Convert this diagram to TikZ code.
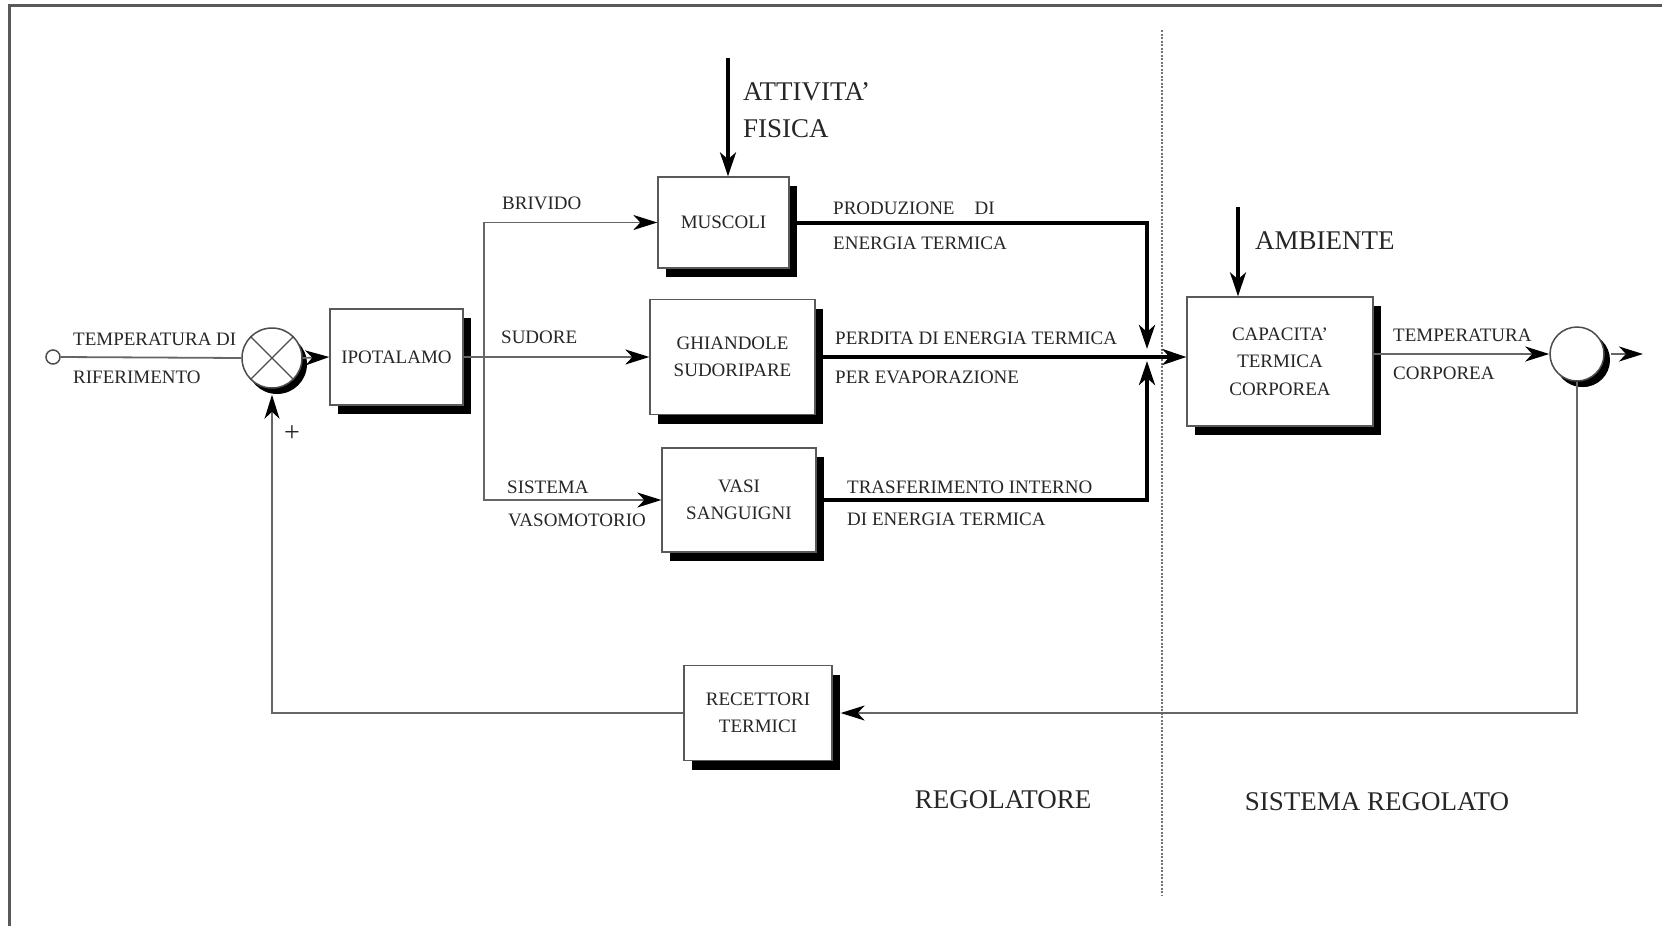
\documentclass[tikz,border=0pt]{standalone}
\usepackage{fontspec}
\setmainfont{Liberation Serif}
\usetikzlibrary{arrows.meta,shadows,calc}
\begin{document}
\begin{tikzpicture}[x=1pt,y=-1pt,
  lbl/.style={font=\fontsize{19}{27.5}\selectfont, text=black!85, inner sep=0pt, anchor=west},
  big/.style={font=\fontsize{27}{37}\selectfont, text=black!85, inner sep=0pt},
  blk/.style={draw=black!65, line width=1.3pt, fill=white, align=center,
    font=\fontsize{19}{27.5}\selectfont, text=black!85, inner sep=0pt,
    drop shadow={shadow xshift=8pt, shadow yshift=-9pt, opacity=1, fill=black}},
  sumc/.style={circle, draw=black!70, line width=1.5pt, fill=white, inner sep=0pt,
    drop shadow={shadow xshift=5pt, shadow yshift=-6pt, opacity=1, fill=black}},
  conn/.style={draw=black!60, line width=1.8pt},
  connarr/.style={conn, -{Stealth[length=24pt,width=15pt,inset=7pt,color=black]}},
  heavy/.style={draw=black, line width=4pt, -{Stealth[length=24pt,width=16pt,inset=7pt]}},
  frameline/.style={draw=black!65, line width=3pt},
  divider/.style={draw=black!55, line width=1.2pt, dash pattern=on 2pt off 1.5pt}
]
\useasboundingbox (0,0) rectangle (1662,926);

% frame
\draw[frameline] (9.5,926) -- (9.5,5.5) -- (1662,5.5);

% divider
\coordinate (d1) at (1162,30);
\coordinate (d2) at (1162,896);
\draw[divider] (d1) -- (d2);

% blocks
\node[blk, minimum width=133pt, minimum height=96pt] (ipo) at (396.5,357) {IPOTALAMO};
\node[blk, minimum width=131pt, minimum height=91pt] (mus) at (723.5,222.5) {MUSCOLI};
\node[blk, minimum width=165pt, minimum height=115pt] (ghi) at (732.5,357) {GHIANDOLE\\SUDORIPARE};
\node[blk, minimum width=154pt, minimum height=104pt] (vas) at (739,500) {VASI\\SANGUIGNI};
\node[blk, minimum width=186pt, minimum height=129pt] (cap) at (1280,361.5) {CAPACITA'\\TERMICA\\CORPOREA};
\node[blk, minimum width=148pt, minimum height=95pt] (rec) at (758,713) {RECETTORI\\TERMICI};

% circles
\node[circle, draw=black!70, line width=1.5pt, inner sep=0pt, minimum size=14pt] (in) at (53,357) {};
\node[sumc, minimum size=60pt] (sum) at (272,358) {};
\draw[draw=black!70, line width=1.3pt] (sum.north east) -- (sum.south west)
  (sum.north west) -- (sum.south east);
\node[sumc, minimum size=54pt, drop shadow={shadow xshift=6pt, shadow yshift=-6pt, opacity=1, fill=black}] (oc) at (1577,354) {};

% connectors
\draw[conn] (in.east) -- (sum.west);
\draw[connarr] (sum.east) -- (ipo.west);
\coordinate (br) at (484,357);
\draw[conn] (ipo.east) -- (br);
\draw[connarr] (br) |- (mus.west);
\draw[connarr] (br) -- (ghi.west);
\draw[connarr] (br) |- (vas.west);

\coordinate (mj) at (1147,357);
\draw[heavy, shorten >=8pt] (mus.east) -| (mj);
\draw[heavy, shorten >=4pt] (vas.east) -| (mj);
\draw[heavy] (ghi.east) -- (cap.west |- ghi.east);

\draw[connarr] (cap.east |- oc.west) -- (oc.west);
\coordinate (out) at (1643,354);
\draw[connarr, shorten <=6pt] (oc.east) -- (out);

\draw[connarr, shorten >=8pt] (oc.south) |- (rec.east);
\draw[connarr, shorten >=6pt] (rec.west) -| (sum.south);

\coordinate (att) at (728,58);
\draw[heavy, line width=3.5pt] (att) -- (att |- mus.north);
\coordinate (amb) at (1238,207);
\draw[heavy, line width=3.5pt] (amb) -- (amb |- cap.north);

% labels
\node[lbl] (t1) at (73,339) {TEMPERATURA DI};
\node[lbl] (t2) at (73,377) {RIFERIMENTO};
\node[lbl, anchor=center, font=\fontsize{28}{30}\selectfont] (plus) at (292,434) {+};
\node[lbl] (b1) at (502,203) {BRIVIDO};
\node[lbl] (s1) at (501,337) {SUDORE};
\node[lbl] (v1) at (507,487) {SISTEMA};
\node[lbl] (v2) at (508,520) {VASOMOTORIO};
\node[lbl] (p1) at (833,208) {PRODUZIONE\hspace{20pt}DI};
\node[lbl] (p2) at (833,243) {ENERGIA TERMICA};
\node[lbl] (e1) at (835,338) {PERDITA DI ENERGIA TERMICA};
\node[lbl] (e2) at (835,377) {PER EVAPORAZIONE};
\node[lbl] (r1) at (847,487) {TRASFERIMENTO INTERNO};
\node[lbl] (r2) at (847,519) {DI ENERGIA TERMICA};
\node[lbl] (c1) at (1393,335) {TEMPERATURA};
\node[lbl] (c2) at (1393,373) {CORPOREA};
\node[big, anchor=west, align=left] (af) at (743,110.5) {ATTIVITA'\\FISICA};
\node[big, anchor=west] (am) at (1255,241) {AMBIENTE};
\node[big] (reg) at (1003,800) {REGOLATORE};
\node[big] (sreg) at (1377,802) {SISTEMA REGOLATO};
\end{tikzpicture}
\end{document}
